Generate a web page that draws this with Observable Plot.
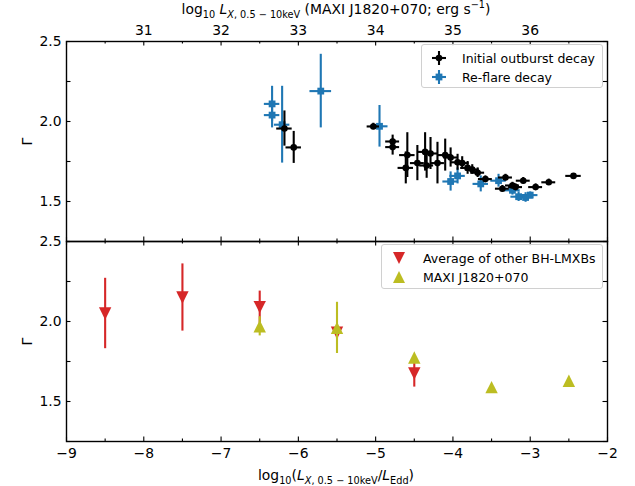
<!DOCTYPE html>
<html><head><meta charset="utf-8">
<script src="https://cdn.jsdelivr.net/npm/d3@7"></script>
<script src="https://cdn.jsdelivr.net/npm/@observablehq/plot@0.6"></script>
<style>
body{margin:0;background:#fff;font-family:"DejaVu Sans",sans-serif;}
#wrap{position:relative;width:635px;height:486px;overflow:hidden;background:#fff}
#wrap svg.panel{position:absolute;left:0}
.lab{position:absolute;font-size:13.9px;white-space:nowrap;color:#000;line-height:1}
.lab sub,.lab sup{font-size:70%;line-height:0}
.legend{position:absolute;border:1px solid #d0d0d0;border-radius:3px;background:rgba(255,255,255,0.85);font-size:12.5px;box-sizing:border-box}
.row{position:absolute;left:0;display:flex;align-items:center;white-space:nowrap}
.row svg{display:block}
</style></head><body><div id="wrap"></div>
<script>
// ---------- data ----------
// Top panel: MAXI J1820+070, log10 L_X (erg/s) vs photon index
const outburstLogL     = [32.82, 32.94, 33.97, 34.22, 34.22, 34.41, 34.39, 34.54, 34.64, 34.71, 34.66, 34.80, 34.90, 34.97, 35.06, 35.12, 35.19, 35.25, 35.32, 35.42, 35.68, 35.64, 35.77, 35.81, 35.91, 36.07, 36.24, 36.56];
const outburstLogLErr  = [0.10, 0.10, 0.08, 0.09, 0.09, 0.10, 0.10, 0.09, 0.09, 0.09, 0.09, 0.09, 0.09, 0.09, 0.09, 0.09, 0.09, 0.09, 0.09, 0.09, 0.09, 0.09, 0.09, 0.09, 0.09, 0.09, 0.09, 0.10];
const outburstGamma    = [1.956, 1.838, 1.969, 1.875, 1.84, 1.79, 1.71, 1.74, 1.81, 1.80, 1.725, 1.74, 1.79, 1.775, 1.745, 1.74, 1.71, 1.70, 1.68, 1.64, 1.65, 1.58, 1.60, 1.59, 1.63, 1.59, 1.62, 1.66];
const outburstGammaErr = [0.11, 0.10, 0.02, 0.04, 0.05, 0.14, 0.10, 0.11, 0.12, 0.10, 0.08, 0.13, 0.10, 0.06, 0.05, 0.04, 0.04, 0.03, 0.03, 0.02, 0.02, 0.02, 0.02, 0.02, 0.02, 0.02, 0.02, 0.01];

const reflareLogL     = [32.66, 32.66, 32.79, 33.29, 34.05, 34.97, 35.06, 35.36, 35.59, 35.77, 35.85, 35.94, 36.00];
const reflareLogLErr  = [0.10, 0.10, 0.10, 0.14, 0.11, 0.10, 0.10, 0.10, 0.10, 0.10, 0.10, 0.10, 0.10];
const reflareGamma    = [2.11, 2.04, 1.98, 2.19, 1.97, 1.625, 1.66, 1.61, 1.63, 1.57, 1.53, 1.525, 1.54];
const reflareGammaErr = [0.11, 0.08, 0.24, 0.23, 0.13, 0.06, 0.05, 0.05, 0.04, 0.03, 0.03, 0.03, 0.02];

// Bottom panel: log10(L_X/L_Edd) bins
const avgEdd      = [-8.5, -7.5, -6.5, -5.5, -4.5];
const avgGamma    = [2.05, 2.15, 2.09, 1.93, 1.675];
const avgGammaErr = [0.22, 0.21, 0.10, 0.04, 0.085];

const maxiEdd      = [-6.5, -5.5, -4.5, -3.5, -2.5];
const maxiGamma    = [1.97, 1.96, 1.775, 1.59, 1.63];
const maxiGammaErr = [0.06, 0.16, 0, 0, 0];

// axes / ticks
const topAxisTicks    = [31, 32, 33, 34, 35, 36];
const bottomAxisTicks = [-9, -8, -7, -6, -5, -4, -3, -2];
const gammaTicks      = [1.5, 2.0, 2.5];
const topDomain    = [30, 37];
const bottomDomain = [-9, -2];
const gammaDomain  = [1.25, 2.5];

// ---------- helpers ----------
const C = {black:"#000000", blue:"#1f77b4", red:"#d62728", olive:"#bcbd22"};
const W = 635, ML = 66, MR = 28, PH = 200, PW = W - ML - MR;
const fontStyle = {fontSize:"13.9px", fontFamily:"DejaVu Sans, sans-serif", background:"transparent", overflow:"visible"};
const minus = d => d < 0 ? "\u2212" + Math.abs(d) : String(d);

const rows = (xs, xe, ys, ye) => xs.map((x, i) => ({x, xe: xe ? xe[i] : 0, y: ys[i], ye: ye[i]}));
const outburst = rows(outburstLogL, outburstLogLErr, outburstGamma, outburstGammaErr);
const reflare  = rows(reflareLogL, reflareLogLErr, reflareGamma, reflareGammaErr);
const avg  = rows(avgEdd, null, avgGamma, avgGammaErr);
const maxi = rows(maxiEdd, null, maxiGamma, maxiGammaErr);

// isoceles triangles like matplotlib '^' / 'v' markers
const triUp = {draw(ctx, size){ const r = Math.sqrt(size/Math.PI); ctx.moveTo(0,-r); ctx.lineTo(r,r); ctx.lineTo(-r,r); ctx.closePath(); }};
const triDown = {draw(ctx, size){ const r = Math.sqrt(size/Math.PI); ctx.moveTo(0,r); ctx.lineTo(r,-r); ctx.lineTo(-r,-r); ctx.closePath(); }};
const square = {draw(ctx, size){ const r = Math.sqrt(size/Math.PI); ctx.rect(-r,-r,2*r,2*r); }};

function inwardTicks(xDomain, xStep, yStep){
  const xs = d3.range(xDomain[0], xDomain[1] + 1e-9, xStep);
  const ys = d3.range(gammaDomain[0], gammaDomain[1] + 1e-9, yStep);
  const isMajorX = v => Math.abs(v - Math.round(v)) < 1e-6;
  const st = {stroke:"#000", strokeWidth:1.1};
  const maj = 4.5, mnr = 2.6;
  return [
    Plot.tickX(xs.filter(isMajorX), {x:d=>d, insetTop: PH - maj, ...st}),
    Plot.tickX(xs.filter(v=>!isMajorX(v)), {x:d=>d, insetTop: PH - mnr, ...st}),
    Plot.tickX(xs.filter(isMajorX), {x:d=>d, insetBottom: PH - maj, ...st}),
    Plot.tickX(xs.filter(v=>!isMajorX(v)), {x:d=>d, insetBottom: PH - mnr, ...st}),
    Plot.tickY(ys, {y:d=>d, insetRight: PW - maj, ...st}),
    Plot.tickY(ys, {y:d=>d, insetLeft: PW - maj, ...st})
  ];
}

function errorbars(data, color, withX){
  const m = [
    Plot.ruleX(data, {x:"x", y1:d=>d.y-d.ye, y2:d=>d.y+d.ye, stroke:color, strokeWidth:2.1})
  ];
  if (withX) m.push(Plot.ruleY(data, {y:"y", x1:d=>d.x-d.xe, x2:d=>d.x+d.xe, stroke:color, strokeWidth:2.1}));
  return m;
}

const yAxis = () => Plot.axisY({anchor:"left", ticks:gammaTicks, tickSize:0, tickPadding:5, tickFormat:d3.format(".1f"), label:"Γ", labelAnchor:"center", labelArrow:"none", labelOffset:44});

// ---------- top panel ----------
const topPlot = Plot.plot({
  width: W, height: 41 + PH + 1,
  marginTop: 41, marginBottom: 1, marginLeft: ML, marginRight: MR,
  style: fontStyle,
  x: {domain: topDomain},
  y: {domain: gammaDomain},
  marks: [
    ...inwardTicks(topDomain, 0.5, 0.25),
    ...errorbars(reflare, C.blue, true),
    Plot.dot(reflare, {x:"x", y:"y", r:3.4, symbol:square, fill:C.blue}),
    ...errorbars(outburst, C.black, true),
    Plot.dot(outburst, {x:"x", y:"y", r:3.3, fill:C.black}),
    Plot.axisX({anchor:"top", ticks:topAxisTicks, tickSize:0, tickPadding:7, tickFormat:d3.format("d"), label:null}),
    yAxis(),
    Plot.frame({stroke:"#000", strokeWidth:1.4})
  ]
});
topPlot.classList.add("panel");
topPlot.style.top = "0px";

// ---------- bottom panel ----------
const bottomPlot = Plot.plot({
  width: W, height: 1 + PH + 45,
  marginTop: 1, marginBottom: 45, marginLeft: ML, marginRight: MR,
  style: fontStyle,
  x: {domain: bottomDomain},
  y: {domain: gammaDomain},
  marks: [
    ...inwardTicks(bottomDomain, 0.5, 0.25),
    ...errorbars(avg, C.red, false),
    Plot.dot(avg, {x:"x", y:"y", r:6.2, symbol:triDown, fill:C.red}),
    ...errorbars(maxi.filter(d=>d.ye>0), C.olive, false),
    Plot.dot(maxi, {x:"x", y:"y", r:6.2, symbol:triUp, fill:C.olive}),
    Plot.axisX({anchor:"bottom", ticks:bottomAxisTicks, tickSize:0, tickPadding:7, tickFormat:minus, label:null}),
    yAxis(),
    Plot.frame({stroke:"#000", strokeWidth:1.4})
  ]
});
bottomPlot.classList.add("panel");
bottomPlot.style.top = "240px";

const wrap = document.getElementById("wrap");
wrap.appendChild(topPlot);
wrap.appendChild(bottomPlot);

// ---------- axis titles (HTML for sub/superscripts) ----------
function addLabel(html, cx, cy){
  const d = document.createElement("div");
  d.className = "lab"; d.innerHTML = html;
  wrap.appendChild(d);
  const b = d.getBoundingClientRect();
  d.style.left = (cx - b.width/2) + "px";
  d.style.top = (cy - b.height/2) + "px";
}
addLabel('log<sub>10</sub> <i>L</i><sub><i>X</i>, 0.5 \u2212 10keV</sub> (MAXI J1820+070; erg s<sup>\u22121</sup>)', 336, 10);
addLabel('log<sub>10</sub>(<i>L</i><sub><i>X</i>, 0.5 \u2212 10keV</sub>/<i>L</i><sub>Edd</sub>)', 336, 476);

// ---------- legends ----------
function legend(x, y, w, h, entries){
  const box = document.createElement("div");
  box.className = "legend";
  Object.assign(box.style, {left:x+"px", top:y+"px", width:w+"px", height:h+"px"});
  entries.forEach((e, i) => {
    const r = document.createElement("div");
    r.className = "row";
    r.style.top = (4 + i*19) + "px";
    r.style.height = "18px";
    r.innerHTML = `<svg width="34" height="18">${e.icon}</svg><span style="margin-left:${e.gap}px">${e.label}</span>`;
    box.appendChild(r);
  });
  wrap.appendChild(box);
}
const errIcon = (c, sq) => `<line x1="10" x2="24" y1="9" y2="9" stroke="${c}" stroke-width="2.1"/><line x1="17" x2="17" y1="2" y2="16" stroke="${c}" stroke-width="2.1"/>` +
  (sq ? `<rect x="13.6" y="5.6" width="6.8" height="6.8" fill="${c}"/>` : `<circle cx="17" cy="9" r="3.3" fill="${c}"/>`);
legend(421, 44, 182, 44, [
  {icon: errIcon(C.black, false), label:"Initial outburst decay", gap:6},
  {icon: errIcon(C.blue, true), label:"Re-flare decay", gap:6}
]);
legend(381, 244, 222, 45, [
  {icon:`<path d="M11,3 L23,3 L17,15 Z" fill="${C.red}"/>`, label:"Average of other BH-LMXBs", gap:7},
  {icon:`<path d="M17,3 L23,15 L11,15 Z" fill="${C.olive}"/>`, label:"MAXI J1820+070", gap:7}
]);
</script></body></html>
